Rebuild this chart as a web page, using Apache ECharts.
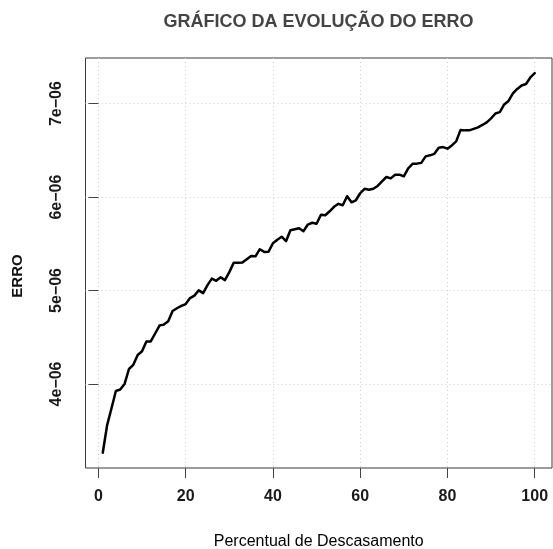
<!DOCTYPE html>
<html>
<head>
<meta charset="utf-8">
<script src="https://cdn.jsdelivr.net/npm/echarts@6/dist/echarts.min.js"></script>
<style>
html,body{margin:0;padding:0;background:#fff;}
#chart{width:553px;height:549px;}
</style>
</head>
<body>
<div id="chart"></div>
<script>
// ---- data ----
const titleText = 'GRÁFICO DA EVOLUÇÃO DO ERRO';
const xName = 'Percentual de Descasamento';
const yName = 'ERRO';

const percentual = [
  1,2,3,4,5,6,7,8,9,10,11,12,13,14,15,16,17,18,19,20,
  21,22,23,24,25,26,27,28,29,30,31,32,33,34,35,36,37,38,39,40,
  41,42,43,44,45,46,47,48,49,50,51,52,53,54,55,56,57,58,59,60,
  61,62,63,64,65,66,67,68,69,70,71,72,73,74,75,76,77,78,79,80,
  81,82,83,84,85,86,87,88,89,90,91,92,93,94,95,96,97,98,99,100
];

const erro = [
  3.263e-6, 3.560e-6, 3.740e-6, 3.925e-6, 3.940e-6, 4.000e-6, 4.160e-6, 4.205e-6, 4.310e-6, 4.350e-6,
  4.455e-6, 4.455e-6, 4.540e-6, 4.625e-6, 4.635e-6, 4.670e-6, 4.780e-6, 4.810e-6, 4.835e-6, 4.855e-6,
  4.919e-6, 4.945e-6, 5.002e-6, 4.972e-6, 5.058e-6, 5.127e-6, 5.104e-6, 5.142e-6, 5.111e-6, 5.197e-6,
  5.296e-6, 5.296e-6, 5.300e-6, 5.335e-6, 5.370e-6, 5.366e-6, 5.442e-6, 5.413e-6, 5.416e-6, 5.506e-6,
  5.544e-6, 5.576e-6, 5.528e-6, 5.645e-6, 5.656e-6, 5.667e-6, 5.635e-6, 5.706e-6, 5.725e-6, 5.715e-6,
  5.811e-6, 5.806e-6, 5.848e-6, 5.896e-6, 5.928e-6, 5.912e-6, 6.009e-6, 5.944e-6, 5.966e-6, 6.041e-6,
  6.089e-6, 6.078e-6, 6.089e-6, 6.119e-6, 6.169e-6, 6.215e-6, 6.200e-6, 6.238e-6, 6.240e-6, 6.222e-6,
  6.308e-6, 6.356e-6, 6.358e-6, 6.366e-6, 6.436e-6, 6.447e-6, 6.463e-6, 6.527e-6, 6.535e-6, 6.518e-6,
  6.553e-6, 6.596e-6, 6.719e-6, 6.714e-6, 6.714e-6, 6.730e-6, 6.746e-6, 6.772e-6, 6.800e-6, 6.842e-6,
  6.895e-6, 6.909e-6, 6.991e-6, 7.029e-6, 7.109e-6, 7.157e-6, 7.194e-6, 7.210e-6, 7.280e-6, 7.326e-6
];

const xTickValues = [0, 20, 40, 60, 80, 100];
const xTickLabels = ['0', '20', '40', '60', '80', '100'];
const yTickValues = [4e-6, 5e-6, 6e-6, 7e-6];
const yTickLabels = ['4e\u221206', '5e\u221206', '6e\u221206', '7e\u221206'];

// ---- R-style axis ranges (data range extended by 4%) ----
function rRange(arr) {
  const mn = Math.min.apply(null, arr), mx = Math.max.apply(null, arr);
  const pad = (mx - mn) * 0.04;
  return [mn - pad, mx + pad];
}
const xr = rRange(percentual);
const yr = rRange(erro);

function lookup(vals, labels, v) {
  for (let i = 0; i < vals.length; i++) {
    if (Math.abs(vals[i] - v) <= Math.abs(vals[i]) * 1e-6 + 1e-12) return labels[i];
  }
  return '';
}

const FONT = "'Liberation Sans', Arial, Helvetica, sans-serif";
const chart = echarts.init(document.getElementById('chart'), null, {renderer: 'canvas'});
chart.setOption({
  animation: false,
  backgroundColor: '#ffffff',
  title: {
    text: titleText,
    left: 318.5,
    textAlign: 'center',
    top: 13,
    padding: 0,
    textStyle: {fontFamily: FONT, fontSize: 18, fontWeight: 'bold', color: '#444444'}
  },
  grid: {
    left: 85.5, right: 1, top: 58, bottom: 81,
    containLabel: false,
    outerBoundsMode: 'none',
    show: true, borderColor: '#3a3a3a', borderWidth: 1, backgroundColor: 'transparent'
  },
  xAxis: {
    type: 'value',
    min: xr[0], max: xr[1],
    name: xName,
    nameLocation: 'middle',
    nameGap: 66,
    nameTextStyle: {fontFamily: FONT, fontSize: 16, color: '#000'},
    axisLine: {show: false},
    axisTick: {show: true, length: 10, lineStyle: {color: '#444', width: 1}, customValues: xTickValues},
    axisLabel: {
      customValues: xTickValues,
      margin: 21,
      fontFamily: FONT, fontSize: 16, fontWeight: 'bold', color: '#1a1a1a',
      formatter: function (v) { return lookup(xTickValues, xTickLabels, v); }
    },
    splitLine: {show: true, lineStyle: {color: '#cfcfcf', width: 1, type: [1, 3]}}
  },
  yAxis: {
    type: 'value',
    min: yr[0], max: yr[1],
    name: yName,
    nameLocation: 'middle',
    nameGap: 60,
    nameRotate: 90,
    nameTextStyle: {fontFamily: FONT, fontSize: 15, fontWeight: 'bold', color: '#111', padding: [0, 26, 0, 0]},
    axisLine: {show: false},
    axisTick: {show: true, length: 10, lineStyle: {color: '#444', width: 1}, customValues: yTickValues},
    axisLabel: {
      customValues: yTickValues,
      rotate: 90,
      margin: 21,
      fontFamily: FONT, fontSize: 16, fontWeight: 'bold', color: '#1a1a1a',
      formatter: function (v) { return lookup(yTickValues, yTickLabels, v); }
    },
    splitLine: {show: true, lineStyle: {color: '#cfcfcf', width: 1, type: [1, 3]}}
  },
  series: [{
    type: 'line',
    data: percentual.map(function (x, i) { return [x, erro[i]]; }),
    showSymbol: false,
    symbol: 'none',
    lineStyle: {color: '#000', width: 2.5, join: 'round', cap: 'round'},
    silent: true
  }]
});
</script>
</body>
</html>
